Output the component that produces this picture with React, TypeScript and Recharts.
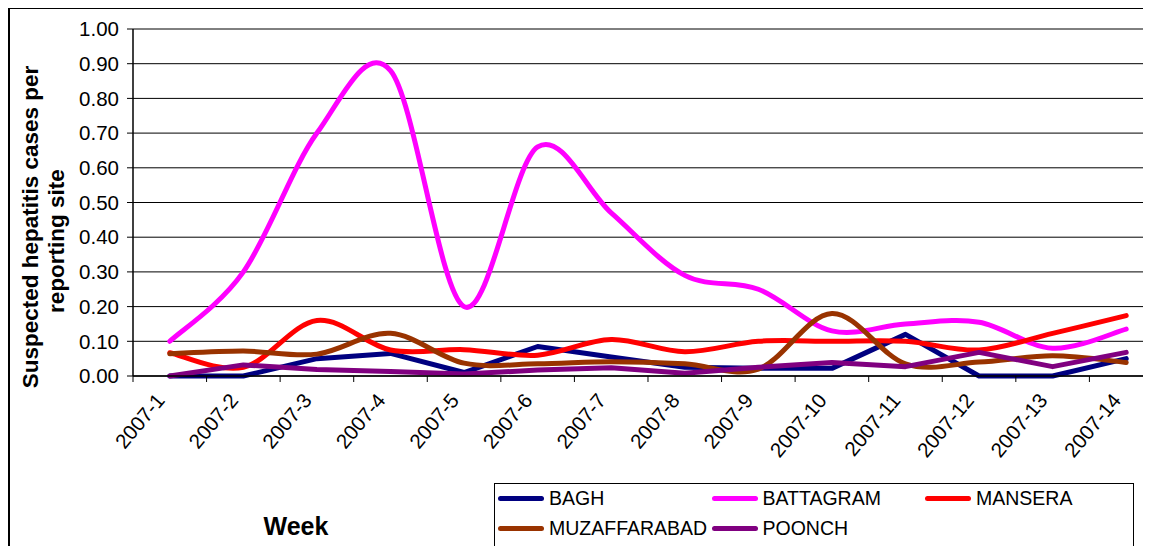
import React from 'react'
import { LineChart, Line, XAxis, YAxis, CartesianGrid } from 'recharts'

const weeks = [
  '2007-1', '2007-2', '2007-3', '2007-4', '2007-5', '2007-6', '2007-7',
  '2007-8', '2007-9', '2007-10', '2007-11', '2007-12', '2007-13', '2007-14',
]

const bagh = [0.0, 0.0, 0.05, 0.065, 0.01, 0.085, 0.055, 0.025, 0.022, 0.022, 0.12, 0.0, 0.0, 0.05]
const battagram = [0.1, 0.3, 0.7, 0.88, 0.2, 0.66, 0.47, 0.29, 0.25, 0.13, 0.15, 0.155, 0.08, 0.135]
const mansera = [0.067, 0.025, 0.16, 0.075, 0.076, 0.06, 0.105, 0.07, 0.1, 0.1, 0.1, 0.075, 0.123, 0.174]
const muzaffarabad = [0.064, 0.072, 0.063, 0.123, 0.037, 0.035, 0.041, 0.035, 0.02, 0.18, 0.035, 0.04, 0.058, 0.039]
const poonch = [0.0, 0.032, 0.019, 0.013, 0.006, 0.017, 0.024, 0.008, 0.025, 0.039, 0.027, 0.068, 0.027, 0.068]

const yTicks = [0, 0.1, 0.2, 0.3, 0.4, 0.5, 0.6, 0.7, 0.8, 0.9, 1.0]

const series = [
  { key: 'BAGH', values: bagh, color: '#000080', smooth: false },
  { key: 'BATTAGRAM', values: battagram, color: '#FF00FF', smooth: true },
  { key: 'MANSERA', values: mansera, color: '#FF0000', smooth: true },
  { key: 'MUZAFFARABAD', values: muzaffarabad, color: '#993300', smooth: true },
  { key: 'POONCH', values: poonch, color: '#800080', smooth: false },
]

const data = weeks.map((week, i) => {
  const row: Record<string, any> = { week }
  series.forEach((s) => { row[s.key] = s.values[i] })
  return row
})

const FONT = '"Liberation Sans", Arial, sans-serif'
const HALF_BAND = 36.8

// excel-style smoothed line (catmull-rom as cubic bezier)
function excelSmooth(context: any) {
  let pts: number[][] = []
  return {
    areaStart() {},
    areaEnd() {},
    lineStart() { pts = [] },
    point(x: number, y: number) { pts.push([+x, +y]) },
    lineEnd() {
      const n = pts.length
      if (!n) return
      context.moveTo(pts[0][0], pts[0][1])
      for (let i = 0; i < n - 1; i++) {
        const p0 = pts[i - 1] || pts[i]
        const p1 = pts[i]
        const p2 = pts[i + 1]
        const p3 = pts[i + 2] || p2
        context.bezierCurveTo(
          p1[0] + (p2[0] - p0[0]) / 6, p1[1] + (p2[1] - p0[1]) / 6,
          p2[0] - (p3[0] - p1[0]) / 6, p2[1] - (p3[1] - p1[1]) / 6,
          p2[0], p2[1],
        )
      }
    },
  }
}

function WeekTick(props: any) {
  const { x, y, payload } = props
  const tx = x - 4
  const ty = y + 25
  return (
    <g>
      <line x1={x - HALF_BAND} x2={x - HALF_BAND} y1={y} y2={y + 6} stroke="#000" />
      <text
        x={tx}
        y={ty}
        transform={`rotate(-50 ${tx} ${ty})`}
        textAnchor="end"
        fontSize={20.5}
        fontFamily={FONT}
        fill="#000"
      >
        {payload.value}
      </text>
    </g>
  )
}

export default function App() {
  return (
    <div style={{ position: 'relative', width: 1160, height: 560, fontFamily: FONT, color: '#000' }}>
      <style>{'body{overflow:hidden}'}</style>
      <div style={{
        position: 'absolute', left: 0, top: -1, width: 1200, height: 600,
        borderTop: '2px solid #000', borderLeft: '2px solid #000', boxSizing: 'border-box',
      }} />

      <LineChart width={1160} height={550} data={data} margin={{ top: 21, right: 5, left: 0, bottom: 82 }}>
        <CartesianGrid vertical={false} stroke="#000" strokeWidth={1} />
        <XAxis
          dataKey="week"
          scale="point"
          interval={0}
          padding={{ left: HALF_BAND, right: HALF_BAND }}
          axisLine={{ stroke: '#000', strokeWidth: 1.5 }}
          tickLine={false}
          tickSize={0}
          tickMargin={0}
          height={100}
          tick={<WeekTick />}
        />
        <YAxis
          domain={[0, 1]}
          ticks={yTicks}
          width={125}
          tickFormatter={(v: number) => v.toFixed(2)}
          tick={{ fontSize: 20.5, fill: '#000', fontFamily: FONT }}
          tickSize={6}
          tickMargin={8}
          axisLine={{ stroke: '#000', strokeWidth: 1.5 }}
          tickLine={{ stroke: '#000' }}
        />
        {series.map((s) => (
          <Line
            key={s.key}
            dataKey={s.key}
            type={s.smooth ? (excelSmooth as any) : 'linear'}
            stroke={s.color}
            strokeWidth={5}
            strokeLinecap="round"
            strokeLinejoin="round"
            dot={false}
            activeDot={false}
            isAnimationActive={false}
          />
        ))}
      </LineChart>

      <div style={{
        position: 'absolute', left: 23, top: 219, transform: 'translate(-50%, -50%) rotate(-90deg)',
        whiteSpace: 'nowrap', fontWeight: 'bold', fontSize: 22.5,
      }}>
        Suspected hepatitis cases per
      </div>
      <div style={{
        position: 'absolute', left: 49, top: 233, transform: 'translate(-50%, -50%) rotate(-90deg)',
        whiteSpace: 'nowrap', fontWeight: 'bold', fontSize: 22.5,
      }}>
        reporting site
      </div>

      <div style={{
        position: 'absolute', left: 288, top: 518, transform: 'translate(-50%, -50%)',
        fontWeight: 'bold', fontSize: 25,
      }}>
        Week
      </div>

      <div style={{
        position: 'absolute', left: 486, top: 475, width: 640, height: 90,
        border: '1px solid #000', boxSizing: 'border-box', background: '#fff',
      }}>
        {series.map((s, i) => (
          <div key={s.key} style={{
            position: 'absolute', left: 3 + (i % 3) * 213.5, top: 3 + Math.floor(i / 3) * 30,
            display: 'flex', alignItems: 'center', height: 22,
          }}>
            <div style={{ width: 46, height: 5, borderRadius: 3, background: s.color }} />
            <span style={{ marginLeft: 5, fontSize: 19.5 }}>{s.key}</span>
          </div>
        ))}
      </div>
    </div>
  )
}
